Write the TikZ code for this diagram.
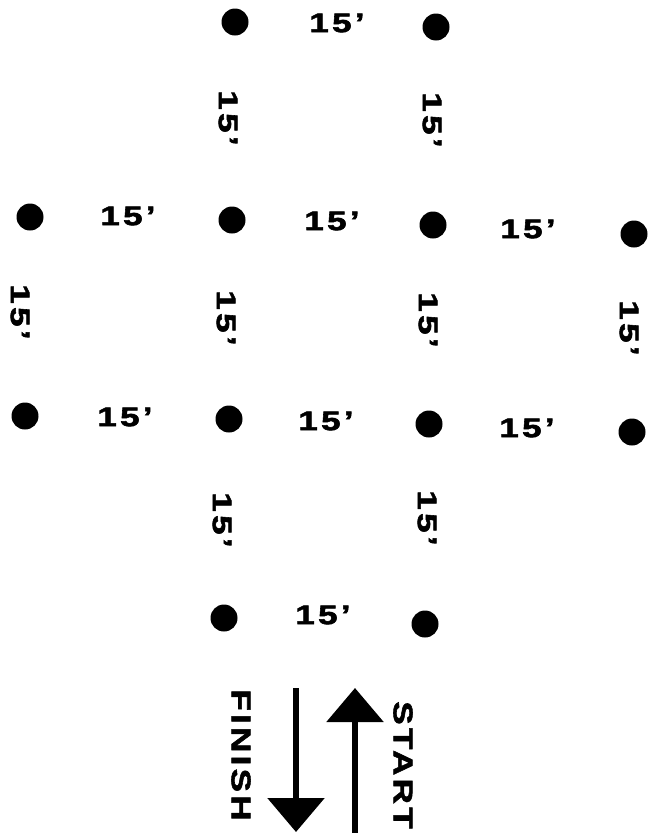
\documentclass[tikz,border=0pt]{standalone}
\usepackage{fontspec}
\newfontfamily\lblfont[FakeStretch=1.3,LetterSpace=12,FakeBold=2]{Liberation Sans}
\usetikzlibrary{arrows.meta}
\tikzset{
  dot/.style={circle, fill=black, minimum size=27pt, inner sep=0pt},
  hlbl/.style={font=\lblfont\bfseries\fontsize{27}{27}\selectfont, inner sep=0pt},
  vlbl/.style={hlbl, rotate=-90},
  bigarrow/.style={line width=6pt, -{Triangle[width=56pt,length=34pt]}}
}
\begin{document}
\begin{tikzpicture}[x=1pt,y=-1pt]
\useasboundingbox (0,0) rectangle (649,833);
% dots
\node[dot] (a1) at (235,22) {};
\node[dot] (a2) at (436,27) {};
\node[dot] (b0) at (30,217) {};
\node[dot] (b1) at (232,220) {};
\node[dot] (b2) at (433,225) {};
\node[dot] (b3) at (634,234) {};
\node[dot] (c0) at (25,416) {};
\node[dot] (c1) at (229,419) {};
\node[dot] (c2) at (429,424) {};
\node[dot] (c3) at (632,432) {};
\node[dot] (d1) at (224,618) {};
\node[dot] (d2) at (425,624) {};
% horizontal labels
\node[hlbl] (ha) at (337,23) {15’};
\node[hlbl] (hb1) at (128,216) {15’};
\node[hlbl] (hb2) at (332,221) {15’};
\node[hlbl] (hb3) at (528,229) {15’};
\node[hlbl] (hc1) at (125,417) {15’};
\node[hlbl] (hc2) at (326,421) {15’};
\node[hlbl] (hc3) at (527,428) {15’};
\node[hlbl] (hd) at (323,615) {15’};
% vertical labels
\node[vlbl] (v1) at (228,118) {15’};
\node[vlbl] (v2) at (432,120) {15’};
\node[vlbl] (v3) at (20,312) {15’};
\node[vlbl] (v4) at (226,318) {15’};
\node[vlbl] (v5) at (428,320) {15’};
\node[vlbl] (v6) at (629,328) {15’};
\node[vlbl] (v7) at (222,520) {15’};
\node[vlbl] (v8) at (427,518) {15’};
% arrows
\coordinate (fs) at (296,688);
\coordinate (fe) at (296,832);
\coordinate (ss) at (355,833);
\coordinate (se) at (355,688);
\draw[bigarrow] (fs) -- (fe);
\draw[bigarrow] (ss) -- (se);
\node[vlbl] (finish) at (241,755) {FINISH};
\node[vlbl] (start) at (403,765) {START};
\end{tikzpicture}
\end{document}
